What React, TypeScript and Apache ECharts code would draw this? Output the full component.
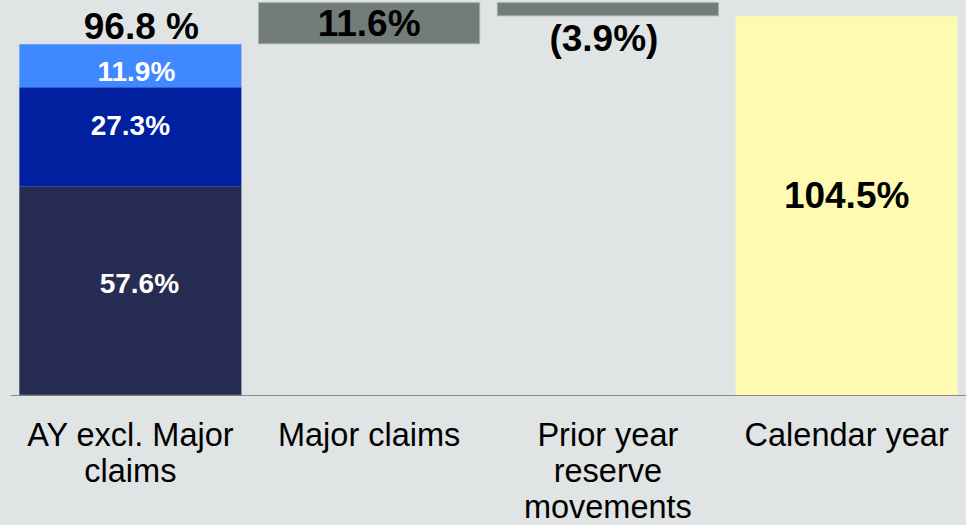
import React, { useEffect, useRef } from "react";
import * as echarts from "echarts";

const categories = ["AY excl. Major\nclaims", "Major claims", "Prior year\nreserve\nmovements", "Calendar year"];
const ayAttritional = [57.6, "-", "-", "-"];
const ayMid = [27.3, "-", "-", "-"];
const ayTop = [11.9, "-", "-", "-"];
const movements = ["-", 11.6, 3.9, "-"];
const movementSign = [0, 1, -1, 0];
const calendarYear = ["-", "-", "-", 104.5];
const invisibleBase = [0, 96.8, 104.5, 0];

const FONT = "'Liberation Sans', Arial, sans-serif";

export default function App() {
  const ref = useRef<HTMLDivElement>(null);
  useEffect(() => {
    if (!ref.current) return;
    const chart = echarts.init(ref.current, null, { renderer: "svg" });
    const ayTotal = (ayAttritional[0] as number) + (ayMid[0] as number) + (ayTop[0] as number);
    const inner = (color: string) => ({
      show: true,
      position: "inside",
      color,
      fontFamily: FONT,
      fontWeight: "bold",
      fontSize: 28,
      formatter: (p: any) => `${Number(p.value).toFixed(1)}%`,
    });
    const option: any = {
      animation: false,
      backgroundColor: "#e1e4e5",
      grid: { left: 11, right: 0, top: 0, bottom: 128, containLabel: false },
      xAxis: {
        type: "category",
        data: categories,
        axisLine: { show: true, lineStyle: { color: "#8c8c8c", width: 1 } },
        axisTick: { show: false },
        axisLabel: {
          interval: 0,
          margin: 22,
          color: "#000",
          fontFamily: FONT,
          fontSize: 32.5,
          lineHeight: 36,
        },
      },
      yAxis: {
        type: "value",
        min: 0,
        max: 109,
        show: false,
        splitLine: { show: false },
      },
      series: [
        {
          type: "bar",
          stack: "w",
          barCategoryGap: "7%",
          data: invisibleBase,
          itemStyle: { color: "transparent" },
          silent: true,
        },
        {
          type: "bar",
          stack: "w",
          data: ayAttritional,
          itemStyle: { color: "#272d52", borderColor: "#272d52", borderWidth: 0.5 },
          label: { ...inner("#fff"), offset: [9, -7] },
        },
        {
          type: "bar",
          stack: "w",
          data: ayMid,
          itemStyle: { color: "#0020a0" },
          label: { ...inner("#fff"), offset: [0, -11] },
        },
        {
          type: "bar",
          stack: "w",
          data: ayTop,
          itemStyle: { color: "#3f88ff" },
          label: { ...inner("#fff"), offset: [6, 6] },
        },
        {
          type: "bar",
          stack: "w",
          data: ayTop.map((v) => (v === "-" ? "-" : 0)),
          itemStyle: { color: "transparent" },
          label: {
            show: true,
            position: "top",
            distance: -1,
            color: "#000",
            fontFamily: FONT,
            fontWeight: "bold",
            fontSize: 37,
            offset: [11, 0],
            formatter: () => `${ayTotal.toFixed(1)} %`,
          },
        },
        {
          type: "bar",
          stack: "w",
          data: movements.map((v, i) =>
            v === "-"
              ? "-"
              : {
                  value: v,
                  label:
                    movementSign[i] < 0
                      ? { position: "bottom", distance: 4, offset: [-4, 0], formatter: `(${Number(v).toFixed(1)}%)` }
                      : { position: "inside", formatter: `${Number(v).toFixed(1)}%` },
                }
          ),
          itemStyle: { color: "#727c79", borderColor: "#a3aaa8", borderWidth: 1 },
          label: {
            show: true,
            color: "#000",
            fontFamily: FONT,
            fontWeight: "bold",
            fontSize: 37,
          },
        },
        {
          type: "bar",
          stack: "w",
          data: calendarYear,
          itemStyle: { color: "#fffab2" },
          label: {
            show: true,
            position: "inside",
            offset: [0, -10],
            color: "#000",
            fontFamily: FONT,
            fontWeight: "bold",
            fontSize: 37,
            formatter: (p: any) => `${Number(p.value).toFixed(1)}%`,
          },
        },
      ],
    };
    chart.setOption(option);
    return () => chart.dispose();
  }, []);
  return (
    <div
      ref={ref}
      style={{ position: "fixed", left: 0, top: 0, width: 966, height: 525, background: "#e1e4e5" }}
    />
  );
}
